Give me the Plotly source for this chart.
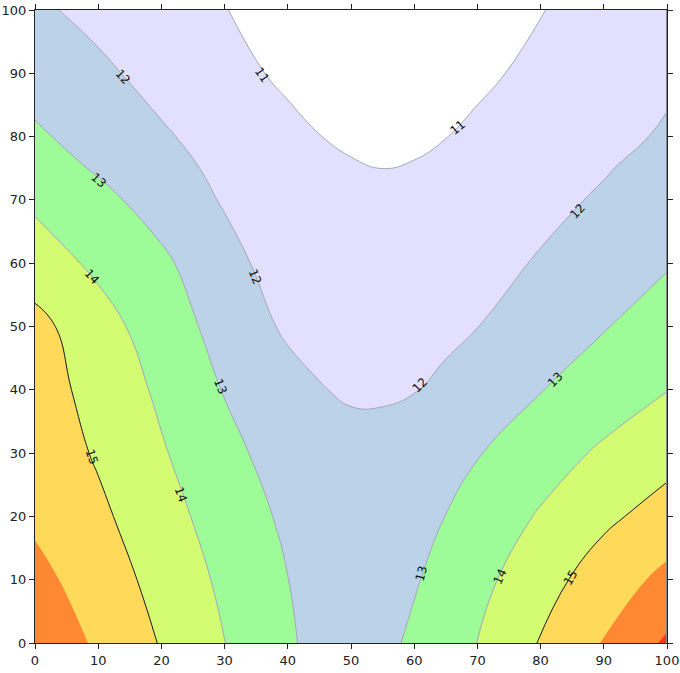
import plotly.graph_objects as go

# Grid coordinates (extra columns/row in the valley)
x_vals = [0, 10, 20, 30, 40, 45, 50, 55, 60, 65, 70, 80, 90, 100]
y_vals = [0, 10, 20, 30, 40, 50, 60, 70, 75, 80, 90, 100]

# Estimated surface values at each grid node (rows: y values above)
z_y0   = [16.77, 15.85, 14.94, 14.01, 13.12, 12.73, 12.60, 12.76, 13.17, 13.59, 14.01, 15.06, 16.06, 17.15]
z_y10  = [16.30, 15.51, 14.68, 13.81, 13.01, 12.68, 12.56, 12.64, 12.92, 13.32, 13.72, 14.61, 15.49, 16.25]
z_y20  = [15.82, 15.20, 14.37, 13.57, 12.82, 12.58, 12.48, 12.53, 12.71, 13.01, 13.38, 14.09, 14.80, 15.40]
z_y30  = [15.65, 14.89, 14.09, 13.28, 12.55, 12.43, 12.36, 12.38, 12.46, 12.66, 12.95, 13.56, 14.15, 14.66]
z_y40  = [15.45, 14.67, 13.83, 12.95, 12.35, 12.05, 11.87, 11.86, 11.97, 12.17, 12.47, 12.97, 13.48, 13.98]
z_y50  = [15.29, 14.39, 13.50, 12.65, 11.85, 11.70, 11.62, 11.60, 11.68, 11.82, 11.99, 12.47, 12.95, 13.44]
z_y60  = [14.50, 13.80, 13.18, 12.31, 11.55, 11.43, 11.37, 11.35, 11.40, 11.53, 11.72, 12.07, 12.50, 12.93]
z_y70  = [13.82, 13.26, 12.59, 11.92, 11.40, 11.27, 11.20, 11.14, 11.15, 11.27, 11.44, 11.78, 12.10, 12.53]
z_y75  = [13.46, 12.90, 12.32, 11.79, 11.28, 11.14, 11.05, 10.995, 11.035, 11.12, 11.29, 11.62, 11.94, 12.30]
z_y80  = [13.14, 12.62, 12.10, 11.66, 11.22, 11.01, 10.91, 10.86, 10.90, 10.99, 11.15, 11.46, 11.78, 12.09]
z_y90  = [12.60, 12.16, 11.72, 11.28, 10.84, 10.70, 10.62, 10.58, 10.60, 10.70, 10.85, 11.19, 11.54, 11.86]
z_y100 = [12.14, 11.77, 11.39, 11.02, 10.69, 10.55, 10.46, 10.43, 10.45, 10.55, 10.70, 10.97, 11.35, 11.74]
z_rows = [z_y0, z_y10, z_y20, z_y30, z_y40, z_y50, z_y60, z_y70, z_y75, z_y80, z_y90, z_y100]

# Contour levels and band colours (<11, 11-12, ..., 16-17, >17)
level_start, level_end, level_step = 11, 17, 1
band_colors = ["#FFFFFF", "#E2E0FE", "#BCD2E8", "#9DFB98",
               "#D4FC72", "#FFD95A", "#FF8833", "#FF3322"]
gray_levels = (11, 14)
black_level = 15

# Contour labels as placed on the reference chart
label_text  = ["11", "11", "12", "12", "12", "12", "13", "13", "13", "13",
               "14", "14", "14", "15", "15"]
label_x     = [35.9, 66.8, 13.9, 34.8, 60.9, 85.9, 10.0, 29.3, 61.1, 82.3,
               9.0, 23.1, 73.6, 9.0, 84.7]
label_y     = [89.7, 81.4, 89.4, 57.8, 40.8, 68.2, 73.1, 40.6, 10.9, 41.5,
               57.8, 23.4, 10.4, 29.4, 10.3]
label_angle = [55, -40, 48, 68, -45, -47, 42, 68, -75, -46,
               48, 70, -65, 72, -59]

n = len(band_colors) - 1
colorscale = [[i / n, c] for i, c in enumerate(band_colors)]

fig = go.Figure()

fig.add_trace(go.Contour(
    x=x_vals, y=y_vals, z=z_rows,
    autocontour=False,
    contours=dict(start=level_start, end=level_end, size=level_step,
                  coloring="fill", showlines=False),
    colorscale=colorscale, showscale=False,
    line=dict(width=0, smoothing=1.3),
    hoverinfo="skip",
))

fig.add_trace(go.Contour(
    x=x_vals, y=y_vals, z=z_rows,
    autocontour=False,
    contours=dict(start=gray_levels[0], end=gray_levels[1], size=level_step,
                  coloring="none", showlabels=False),
    line=dict(color="#A6A6B8", width=1, smoothing=1.3),
    showscale=False, hoverinfo="skip",
))

fig.add_trace(go.Contour(
    x=x_vals, y=y_vals, z=z_rows,
    autocontour=False,
    contours=dict(start=black_level, end=black_level, size=level_step,
                  coloring="none", showlabels=False),
    line=dict(color="#1a1a1a", width=1, smoothing=1.3),
    showscale=False, hoverinfo="skip",
))

for t, lx, ly, ang in zip(label_text, label_x, label_y, label_angle):
    fig.add_annotation(x=lx, y=ly, xref="x", yref="y", text=t, showarrow=False,
                       textangle=ang,
                       font=dict(family="DejaVu Sans", size=12, color="#111111"))

axis_common = dict(
    range=[0, 100], dtick=10, tick0=0, automargin=False,
    ticks="outside", ticklen=5, tickcolor="#222222",
    showline=True, linecolor="#222222", linewidth=1, mirror="ticks",
    showgrid=False, zeroline=False,
    tickfont=dict(family="DejaVu Sans", size=13, color="#222222"),
)

fig.update_layout(
    width=680, height=673,
    margin=dict(l=35, r=13, t=10, b=30),
    paper_bgcolor="white", plot_bgcolor="white",
    xaxis=axis_common, yaxis=axis_common,
    showlegend=False,
)

fig.add_shape(type="line", xref="x", yref="y", x0=100, x1=100, y0=0, y1=100,
              line=dict(color="#8a8a8a", width=2), layer="above")

fig.write_html("out.html")
